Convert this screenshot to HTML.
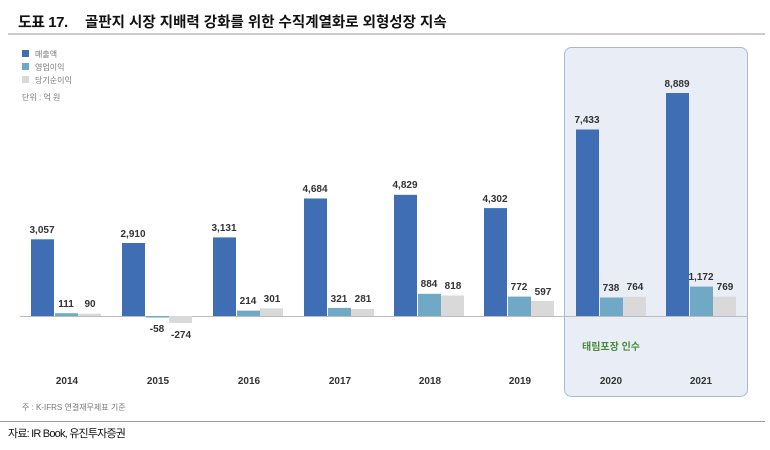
<!DOCTYPE html>
<html><head><meta charset="utf-8"><style>
body{margin:0;background:#fff;width:770px;height:445px;overflow:hidden}
text{font-family:"Liberation Sans","Noto Sans CJK KR",sans-serif}
</style></head><body>
<svg width="770" height="445" xmlns="http://www.w3.org/2000/svg">
<text x="18" y="27" font-size="15" font-weight="bold" fill="#111" letter-spacing="-0.5" font-family="Noto Sans CJK KR, sans-serif">도표 17.</text>
<text x="85" y="27" font-size="14.5" font-weight="bold" fill="#111" font-family="Noto Sans CJK KR, sans-serif">골판지 시장 지배력 강화를 위한 수직계열화로 외형성장 지속</text>
<line x1="8" y1="34" x2="765" y2="34" stroke="#999" stroke-width="1"/>
<rect x="564.5" y="47.5" width="183" height="349" rx="7" fill="#e9eef6" stroke="#a9b9d4"/>
<rect x="22" y="50" width="7" height="7" fill="#3f6eb5"/>
<rect x="22" y="63" width="7" height="7" fill="#6fa9c6"/>
<rect x="22" y="76" width="7" height="7" fill="#d9d9d9"/>
<g font-size="8" fill="#777" font-family="Noto Sans CJK KR, sans-serif">
<text x="35" y="57">매출액</text><text x="35" y="70">영업이익</text><text x="35" y="83">당기순이익</text>
<text x="22" y="100">단위 : 억 원</text>
<text x="22" y="410">주 : K-IFRS 연결재무제표 기준</text>
</g>
<line x1="20" y1="316.5" x2="748" y2="316.5" stroke="#bbb"/>
<g fill="#3f6eb5">
<rect x="31" y="239.3" width="23" height="76.7"/><rect x="122" y="243" width="23" height="73"/><rect x="213" y="237.4" width="23" height="78.6"/><rect x="304" y="198.5" width="23" height="117.5"/><rect x="394" y="194.8" width="23" height="121.2"/><rect x="484" y="208.1" width="23" height="107.9"/><rect x="576" y="129.5" width="23" height="186.5"/><rect x="666" y="93" width="23" height="223"/>
</g>
<g fill="#6fa9c6">
<rect x="55" y="313.2" width="23" height="2.8"/><rect x="146" y="316" width="23" height="1.5"/><rect x="237" y="310.6" width="23" height="5.4"/><rect x="328" y="307.9" width="23" height="8.1"/><rect x="418" y="293.8" width="23" height="22.2"/><rect x="508" y="296.6" width="23" height="19.4"/><rect x="600" y="297.5" width="23" height="18.5"/><rect x="690" y="286.6" width="23" height="29.4"/>
</g>
<g fill="#d9d9d9">
<rect x="78" y="313.7" width="23" height="2.3"/><rect x="169" y="316" width="23" height="6.9"/><rect x="260" y="308.4" width="23" height="7.6"/><rect x="351" y="308.9" width="23" height="7.1"/><rect x="441" y="295.5" width="23" height="20.5"/><rect x="531" y="301" width="23" height="15"/><rect x="623" y="296.8" width="23" height="19.2"/><rect x="713" y="296.7" width="23" height="19.3"/>
</g>
<g font-size="10" font-weight="bold" fill="#333" text-anchor="middle">
<text x="42" y="233">3,057</text><text x="66" y="307">111</text><text x="90" y="307">90</text>
<text x="133" y="237">2,910</text><text x="157" y="332">-58</text><text x="181" y="338">-274</text>
<text x="224" y="231">3,131</text><text x="248" y="304">214</text><text x="272" y="302">301</text>
<text x="315" y="192">4,684</text><text x="339" y="302">321</text><text x="363" y="302">281</text>
<text x="405" y="188">4,829</text><text x="429" y="287">884</text><text x="453" y="289">818</text>
<text x="495" y="202">4,302</text><text x="519" y="290">772</text><text x="543" y="295">597</text>
<text x="587" y="123">7,433</text><text x="611" y="291">738</text><text x="635" y="290">764</text>
<text x="677" y="87">8,889</text><text x="701" y="280">1,172</text><text x="725" y="290">769</text>
</g>
<text x="611" y="350" font-size="10" font-weight="bold" fill="#4a8a3c" text-anchor="middle" font-family="Noto Sans CJK KR, sans-serif">태림포장 인수</text>
<g font-size="10" font-weight="bold" fill="#333" text-anchor="middle">
<text x="67" y="384">2014</text><text x="158" y="384">2015</text><text x="249" y="384">2016</text><text x="340" y="384">2017</text><text x="430" y="384">2018</text><text x="520" y="384">2019</text><text x="611" y="384">2020</text><text x="701" y="384">2021</text>
</g>
<line x1="0" y1="421.5" x2="765" y2="421.5" stroke="#999"/>
<text x="8" y="437" font-size="11" fill="#111" font-family="Noto Sans CJK KR, sans-serif" letter-spacing="-0.8">자료: IR Book, 유진투자증권</text>
</svg>
</body></html>
